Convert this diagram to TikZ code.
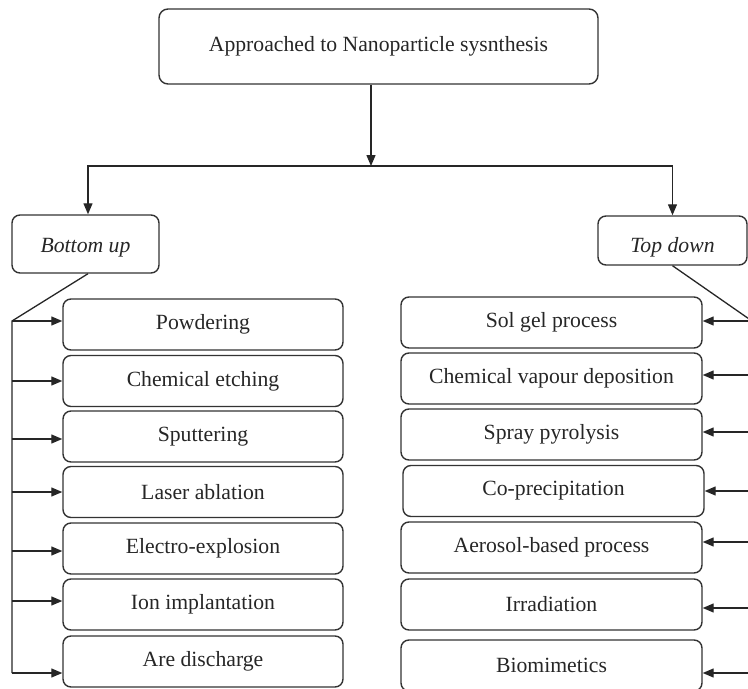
\documentclass[tikz,border=0pt]{standalone}
\usepackage{fontspec}
\setmainfont{Liberation Serif}
\usetikzlibrary{arrows.meta}
\tikzset{
  every node/.style={
    font=\fontsize{21.7}{26}\selectfont,
    text=black!85
  },
  link/.style={
    draw=black!85,
    line width=1.3pt
  },
  arrow/.style={
    link,
    -{Triangle[length=11pt,width=9pt]}
  },
  approach/.style={
    shape=rectangle,
    rounded corners=9pt,
    draw=black!80,
    line width=1.4pt,
    minimum width=439pt,
    minimum height=75pt,
    inner sep=0pt
  },
  branch/.style n args={2}{
    shape=rectangle,
    rounded corners=8pt,
    draw=black!80,
    line width=1.4pt,
    minimum width=#1,
    minimum height=#2,
    inner sep=0pt,
    text depth=0pt,
    font=\fontsize{21.7}{26}\selectfont\itshape
  },
  method/.style={
    shape=rectangle,
    rounded corners=8pt,
    draw=black!80,
    line width=1.4pt,
    minimum width=280pt,
    minimum height=51pt,
    inner sep=0pt
  },
  method wide/.style={
    method,
    minimum width=301pt
  }
}

\begin{document}
\begin{tikzpicture}[x=1pt,y=-1pt]
  \clip (0,0) rectangle (748,689);
  \node [approach] (root) at (378.5,46.5) {Approached to Nanoparticle sysnthesis};
  \node [branch={147pt}{58pt}, text height=16pt] (bottomup) at (85.5,244) {Bottom up};
  \node [branch={149pt}{49pt}, text height=23pt] (topdown) at (672.5,240.5) {Top down};

  \node [method] (powdering)    at (203,324.5) {Powdering};
  \node [method] (etching)      at (203,381) {Chemical etching};
  \node [method] (sputtering)   at (203,436.5) {Sputtering};
  \node [method] (ablation)     at (203,492) {Laser ablation};
  \node [method] (explosion)    at (203,548.5) {Electro-explosion};
  \node [method] (implantation) at (203,604.5) {Ion implantation};
  \node [method] (discharge)    at (203,661.5) {Are discharge};

  \node [method wide] (solgel)      at (551.5,322.5) {Sol gel process};
  \node [method wide] (cvd)         at (551.5,378.5) {Chemical vapour deposition};
  \node [method wide] (pyrolysis)   at (551.5,434.5) {Spray pyrolysis};
  \node [method wide] (coprecip)    at (553.5,491) {Co-precipitation};
  \node [method wide] (aerosol)     at (551.5,547.5) {Aerosol-based process};
  \node [method wide] (irradiation) at (551.5,604.5) {Irradiation};
  \node [method wide] (biomimetics) at (551.5,665.5) {Biomimetics};

  \coordinate (split) at (371,166);
  \draw [arrow] (split |- root.south) -- (split);
  \draw [arrow] (split) -| ([xshift=2.5pt]bottomup.north);
  \draw [arrow] (split) -| (topdown.north);

  \coordinate (lbus) at (12,321);
  \coordinate (lend) at (12,673);
  \draw [link] ([xshift=2.5pt]bottomup.south) -- (lbus) -- (lend);
  \draw [arrow] (lbus) -- (lbus -| powdering.west);
  \draw [arrow] (lbus |- etching) -- (etching.west);
  \draw [arrow] ([yshift=-2.5pt]sputtering.west -| lbus) -- ([yshift=-2.5pt]sputtering.west);
  \draw [arrow] (lbus |- ablation) -- (ablation.west);
  \draw [arrow] ([yshift=-2.5pt]explosion.west -| lbus) -- ([yshift=-2.5pt]explosion.west);
  \draw [arrow] ([yshift=3.5pt]implantation.west -| lbus) -- ([yshift=3.5pt]implantation.west);
  \draw [arrow] (lend) -- (lend -| discharge.west);

  \coordinate (rbus) at (752,321);
  \coordinate (rend) at (752,673);
  \draw [link] (topdown.south) -- (rbus) -- (rend);
  \draw [arrow] (rbus) -- (rbus -| solgel.east);
  \draw [arrow] ([yshift=3.5pt]cvd.east -| rbus) -- ([yshift=3.5pt]cvd.east);
  \draw [arrow] ([yshift=2.5pt]pyrolysis.east -| rbus) -- ([yshift=2.5pt]pyrolysis.east);
  \draw [arrow] (rbus |- coprecip) -- (coprecip.east);
  \draw [arrow] ([yshift=5.5pt]aerosol.east -| rbus) -- ([yshift=5.5pt]aerosol.east);
  \draw [arrow] ([yshift=-3.5pt]irradiation.east -| rbus) -- ([yshift=-3.5pt]irradiation.east);
  \draw [arrow] (rend) -- (rend -| biomimetics.east);
\end{tikzpicture}
\end{document}
